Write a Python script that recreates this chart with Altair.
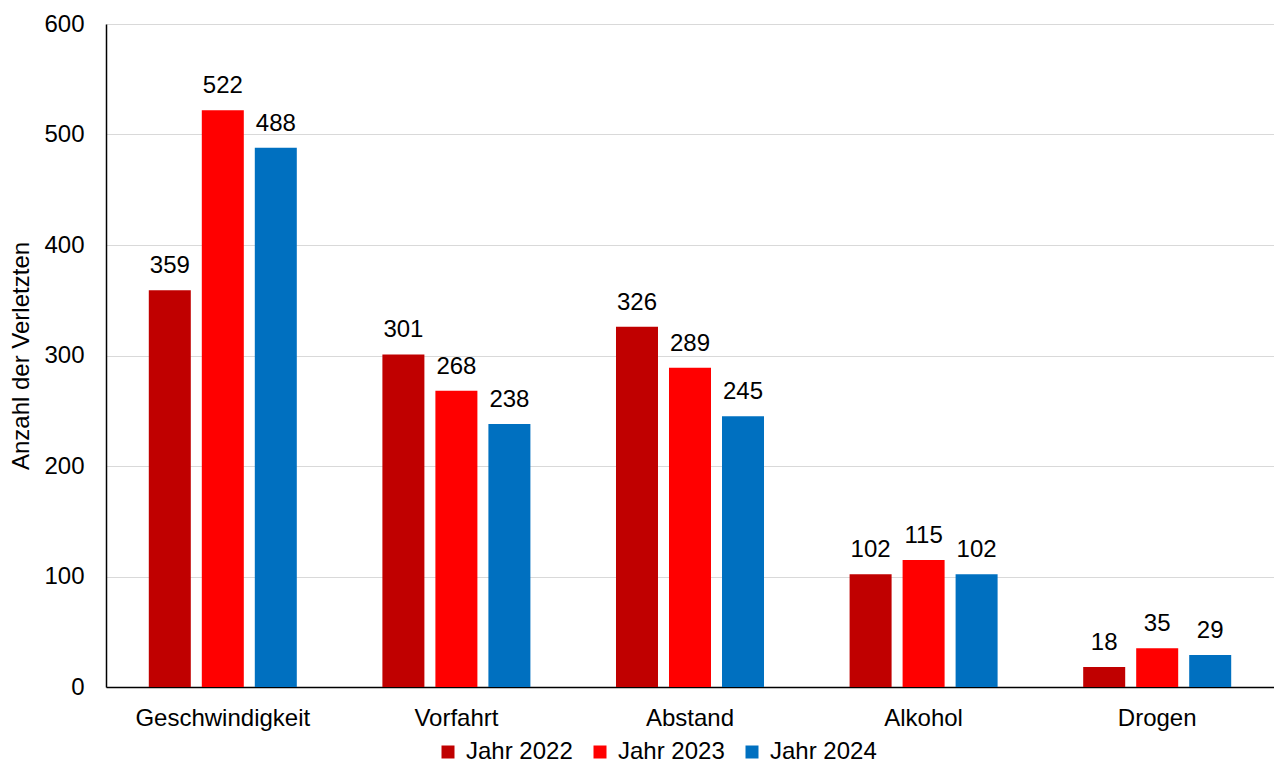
import altair as alt
import pandas as pd

categories = ["Geschwindigkeit", "Vorfahrt", "Abstand", "Alkohol", "Drogen"]
years = ["Jahr 2022", "Jahr 2023", "Jahr 2024"]
values_2022 = [359, 301, 326, 102, 18]
values_2023 = [522, 268, 289, 115, 35]
values_2024 = [488, 238, 245, 102, 29]
colors = ["#C00000", "#FF0000", "#0070C0"]

rows = []
for yr, vals in zip(years, [values_2022, values_2023, values_2024]):
    for c, v in zip(categories, vals):
        rows.append({"Kategorie": c, "Jahr": yr, "Wert": v})
df = pd.DataFrame(rows)

FONT = "Liberation Sans"
FS = 24

base = alt.Chart(df).encode(
    x=alt.X("Kategorie:N", sort=categories, title=None,
            scale=alt.Scale(paddingInner=0.3664, paddingOuter=0.1832),
            axis=alt.Axis(labelAngle=0, ticks=False, labelPadding=19,
                          labelFontSize=FS, labelColor="#000000",
                          domainColor="#000000", domainWidth=1.5, grid=False)),
    xOffset=alt.XOffset("Jahr:N", sort=years,
                        scale=alt.Scale(paddingInner=0.2075, paddingOuter=0)),
    y=alt.Y("Wert:Q", title="Anzahl der Verletzten",
            scale=alt.Scale(domain=[0, 600], nice=False),
            axis=alt.Axis(values=[0, 100, 200, 300, 400, 500, 600], ticks=False,
                          labelPadding=22, labelFontSize=FS, labelColor="#000000",
                          titleFontSize=FS, titleFontWeight="normal", titleColor="#000000",
                          titlePadding=10, domainColor="#000000", domainWidth=1.5,
                          gridColor="#D9D9D9", gridWidth=1.2)),
)

bars = base.mark_bar().encode(
    color=alt.Color("Jahr:N", sort=years,
                    scale=alt.Scale(domain=years, range=colors),
                    legend=alt.Legend(title=None, orient="none", direction="horizontal",
                                      legendX=330, legendY=716, padding=0,
                                      symbolType="square",
                                      symbolSize=169, symbolStrokeWidth=0,
                                      labelFontSize=FS, labelColor="#000000",
                                      labelOffset=6, columnPadding=15)),
)

labels = base.mark_text(baseline="alphabetic", dy=-17, fontSize=FS, color="#000000", font=FONT).encode(
    text=alt.Text("Wert:Q"),
)

chart = alt.layer(bars, labels).properties(
    width=1168, height=663,
    autosize=alt.AutoSizeParams(type="none"),
    padding={"left": 98, "top": 16, "right": 0, "bottom": 79},
).configure(font=FONT).configure_view(stroke=None)

chart.save("out.html", embed_options={"renderer": "svg", "actions": False})
